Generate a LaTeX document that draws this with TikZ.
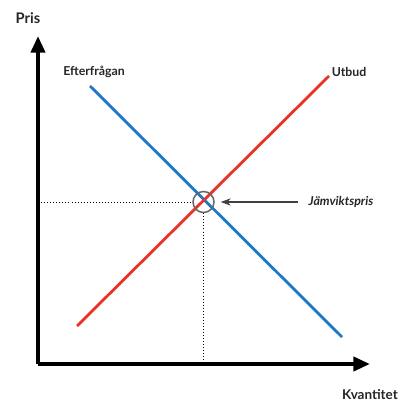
\documentclass[tikz,border=0pt]{standalone}
\usepackage{fontspec}
\setmainfont{Lato}
\usetikzlibrary{arrows.meta}
\definecolor{efterblue}{RGB}{30,120,200}
\definecolor{utbudred}{RGB}{232,52,40}

\begin{document}
\begin{tikzpicture}[x=0.03cm, y=-0.03cm,
    axis/.style={line width=3.4pt, -{Triangle[length=0.5cm, width=0.42cm]}},
    curve/.style={line width=2.4pt},
    label/.style={font=\bfseries\fontsize{10.5}{12}\selectfont, text=black!85},
    guide/.style={dotted, line width=0.6pt}]
  \useasboundingbox (0,0) rectangle (402,403);
  % axlar
  \coordinate (origo) at (38,364);
  \draw[axis] (origo) -- (38,36);
  \draw[axis] (origo) -- (370,364);
  \node[label, font=\bfseries\fontsize{12.5}{14}\selectfont] (pris) at (28,18) {Pris};
  \node[label, font=\bfseries\fontsize{11.5}{13}\selectfont] (kvantitet) at (370,395) {Kvantitet};
  % efterfr\aa gan och utbud
  \draw[curve, efterblue] (90,86) coordinate (e1) -- (342,337) coordinate (e2);
  \draw[curve, utbudred] (77,326) coordinate (u1) -- (329,76) coordinate (u2);
  \node[label] (efter) at (94,72) {Efterfrågan};
  \node[label] (utbud) at (349,72) {Utbud};
  % j\"amvikt
  \node[circle, draw=black!60, line width=1.3pt, minimum size=0.63cm, inner sep=0pt] (jv) at (203.5,202) {};
  \draw[guide] (38,202) -- (jv.west);
  \draw[guide] (jv.south) -- (203.5,364);
  \node[label, font=\bfseries\itshape\fontsize{10.5}{12}\selectfont] (jvtext) at (341,202) {Jämviktspris};
  \draw[line width=0.9pt, black!75, shorten <=0.2cm, shorten >=0.18cm,
    -{Stealth[length=0.3cm, width=0.22cm]}] (jvtext.west) -- (jv.east);
\end{tikzpicture}
\end{document}
